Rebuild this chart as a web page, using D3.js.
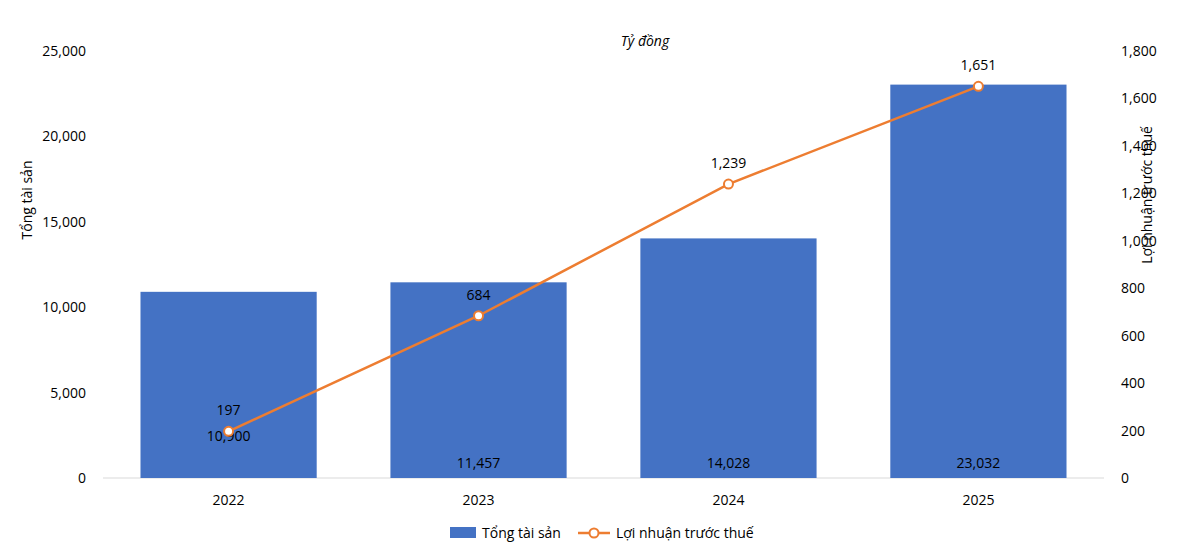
<!DOCTYPE html>
<html lang="vi">
<head>
<meta charset="utf-8">
<script src="https://d3js.org/d3.v7.min.js"></script>
<style>
  body { margin: 0; background: #fff; }
  text { font-family: "Open Sans", "Liberation Sans", sans-serif; fill: #000; }
  .tick line, .domain { display: none; }
</style>
</head>
<body>
<svg width="1200" height="557"></svg>
<script>
var years = ["2022", "2023", "2024", "2025"];
var assets = [10900, 11457, 14028, 23032];
var profit = [197, 684, 1239, 1651];
var leftTicks = [0, 5000, 10000, 15000, 20000, 25000];
var rightTicks = [0, 200, 400, 600, 800, 1000, 1200, 1400, 1600, 1800];

var svg = d3.select("svg");
var plotLeft = 103, plotRight = 1104, plotTop = 51, plotBottom = 478;
var fmt = d3.format(",");

var x = d3.scaleBand().domain(years).range([plotLeft, plotRight]).paddingInner(0.295).paddingOuter(0.15);
var yL = d3.scaleLinear().domain([0, 25000]).range([plotBottom, plotTop]);
var yR = d3.scaleLinear().domain([0, 1800]).range([plotBottom, plotTop]);

svg.append("g").attr("transform", "translate(" + (plotLeft - 14) + ",0)")
  .call(d3.axisLeft(yL).tickValues(leftTicks).tickFormat(fmt).tickSize(0))
  .selectAll("text").style("font-size", "14px");
svg.append("g").attr("transform", "translate(" + (plotRight + 14) + ",0)")
  .call(d3.axisRight(yR).tickValues(rightTicks).tickFormat(fmt).tickSize(0))
  .selectAll("text").style("font-size", "14px");
svg.append("g").attr("transform", "translate(0," + (plotBottom + 14) + ")")
  .call(d3.axisBottom(x).tickSize(0))
  .selectAll("text").style("font-size", "14px");

svg.append("line").attr("x1", plotLeft).attr("x2", plotRight).attr("y1", plotBottom).attr("y2", plotBottom)
  .attr("stroke", "#d9d9d9");

svg.selectAll(".bar").data(assets).enter().append("rect")
  .attr("x", function(d, i) { return x(years[i]); })
  .attr("width", x.bandwidth())
  .attr("y", function(d) { return yL(d); })
  .attr("height", function(d) { return plotBottom - yL(d); })
  .attr("fill", "#4472c4");

svg.selectAll(".blab").data(assets).enter().append("text")
  .attr("x", function(d, i) { return x(years[i]) + x.bandwidth() / 2; })
  .attr("y", function(d, i) { return i === 0 ? 441 : 468; })
  .attr("text-anchor", "middle").style("font-size", "14px")
  .text(function(d) { return fmt(d); });

var cx = function(d, i) { return x(years[i]) + x.bandwidth() / 2; };
var line = d3.line().x(cx).y(function(d) { return yR(d); });
svg.append("path").datum(profit).attr("d", line)
  .attr("fill", "none").attr("stroke", "#ed7d31").attr("stroke-width", 2.5);
svg.selectAll(".pt").data(profit).enter().append("circle")
  .attr("cx", cx).attr("cy", function(d) { return yR(d); }).attr("r", 4.5)
  .attr("fill", "#fff").attr("stroke", "#ed7d31").attr("stroke-width", 2);
svg.selectAll(".plab").data(profit).enter().append("text")
  .attr("x", cx).attr("y", function(d) { return yR(d) - 16; })
  .attr("text-anchor", "middle").style("font-size", "14px")
  .text(function(d) { return fmt(d); });

svg.append("text").attr("x", 645).attr("y", 46).attr("text-anchor", "middle")
  .style("font-size", "14px").style("font-style", "italic").text("Tỷ đồng");
svg.append("text").attr("transform", "translate(32,200) rotate(-90)")
  .attr("text-anchor", "middle").style("font-size", "14px").text("Tổng tài sản");
svg.append("text").attr("transform", "translate(1152,195) rotate(-90)")
  .attr("text-anchor", "middle").style("font-size", "14px").text("Lợi nhuận trước thuế");

var lg = svg.append("g");
lg.append("rect").attr("x", 450).attr("y", 527).attr("width", 26).attr("height", 11).attr("fill", "#4472c4");
lg.append("text").attr("x", 482).attr("y", 538).style("font-size", "14px").text("Tổng tài sản");
lg.append("line").attr("x1", 578).attr("x2", 610).attr("y1", 533).attr("y2", 533)
  .attr("stroke", "#ed7d31").attr("stroke-width", 2.5);
lg.append("circle").attr("cx", 594).attr("cy", 533).attr("r", 4.5)
  .attr("fill", "#fff").attr("stroke", "#ed7d31").attr("stroke-width", 2);
lg.append("text").attr("x", 616).attr("y", 538).style("font-size", "14px").text("Lợi nhuận trước thuế");
</script>
</body>
</html>
